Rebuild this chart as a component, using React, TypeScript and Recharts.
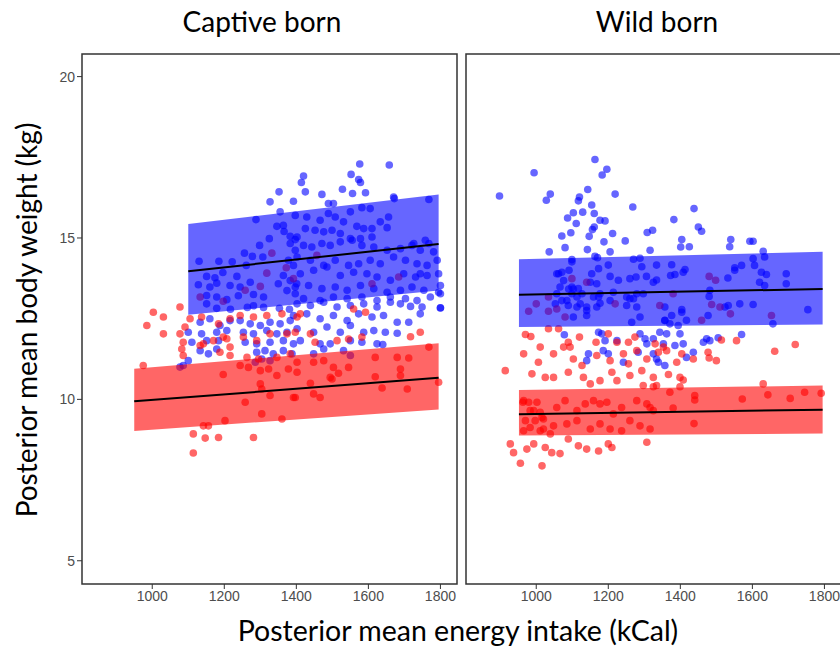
import { ComposedChart, Scatter, Area, Line, XAxis, YAxis, ReferenceArea } from "recharts";

// axis setup shared by both facets
const X_TICKS = [1000, 1200, 1400, 1600, 1800];
const Y_TICKS = [5, 10, 15, 20];
const X_DOMAIN = [805, 1846];
const Y_DOMAIN = [4.28, 20.7];

const TITLES = ["Captive born", "Wild born"];
const X_LABEL = "Posterior mean energy intake (kCal)";
const Y_LABEL = "Posterior mean body weight (kg)";

// captive born, blue group: [intake, weight]
const captiveBlue = [
  [1352,16.43],[1327,16.12],[1392,16.14],[1355,15.81],[1288,15.57],[1346,15.36],[1364,15.39],[1366,15.2],[1325,14.98],[1298,14.77],
  [1383,15.05],[1397,14.95],[1256,14.53],[1278,14.43],[1307,14.41],[1130,14.28],[1185,14.28],[1222,14.26],[1261,14.15],[1151,13.81],
  [1174,13.77],[1196,13.93],[1235,13.81],[1128,13.55],[1160,13.48],[1179,13.6],[1216,13.53],[1244,13.48],[1272,13.63],[1151,13.22],
  [1179,13.17],[1207,13.09],[1239,13.21],[1281,13.25],[1309,13.17],[1151,12.96],[1179,12.82],[1217,12.79],[1264,12.85],[1281,12.9],
  [1309,12.85],[1353,12.82],[1381,12.79],[1383,14.83],[1397,14.62],[1378,14.31],[1392,14.15],[1364,13.84],[1383,13.68],[1401,13.58],
  [1350,13.58],[1374,13.37],[1397,13.27],
  [1576,17.29],[1658,17.26],[1420,16.92],[1414,16.72],[1552,16.97],[1573,16.81],[1578,16.72],[1425,16.43],[1471,16.35],[1528,16.51],
  [1556,16.38],[1592,16.4],[1489,16.07],[1503,16.07],[1550,15.81],[1582,15.94],[1605,15.91],[1672,16.22],[1768,16.19],
  [1397,15.7],[1429,15.65],[1466,15.55],[1489,15.76],[1508,15.65],[1531,15.5],[1568,15.36],[1587,15.29],[1610,15.29],[1633,15.5],
  [1656,15.65],[1652,15.32],[1425,15.29],[1452,15.24],[1476,15.19],[1499,15.24],[1522,15.14],[1550,14.98],[1578,14.98],[1610,15.03],
  [1402,15.03],[1420,14.77],[1443,14.72],[1471,14.83],[1494,14.77],[1522,14.88],[1555,14.93],[1582,14.77],[1615,14.72],[1652,14.62],
  [1689,14.67],[1721,14.77],[1758,14.93],[1768,14.83],[1744,14.62],[1781,14.57],
  [1402,14.41],[1439,14.31],[1476,14.15],[1508,14.31],[1545,14.15],[1573,14.2],[1605,14.31],[1633,14.2],[1670,14.41],[1703,14.31],
  [1735,14.2],[1763,14.15],[1791,14.31],[1411,13.89],[1448,14.0],[1485,14.1],[1522,13.84],[1559,13.94],[1596,13.89],[1624,13.79],
  [1661,13.69],[1698,13.89],[1731,13.79],[1763,13.84],[1795,13.89],[1397,13.48],[1434,13.53],[1471,13.43],[1508,13.48],[1541,13.38],
  [1578,13.53],[1615,13.43],[1652,13.32],[1689,13.38],[1721,13.48],[1754,13.38],[1795,13.32],[1420,13.12],[1466,13.06],[1503,13.17],
  [1541,13.12],[1582,13.17],[1624,13.06],[1661,13.17],[1703,13.12],[1735,13.06],[1772,13.17],
  [1402,12.96],[1439,12.91],[1476,13.01],[1513,12.86],[1550,12.91],[1587,12.96],[1624,12.86],[1661,13.01],[1689,12.96],[1717,12.88],
  [1749,12.86],[1800,12.84],[1392,12.6],[1429,12.65],[1466,12.5],[1503,12.6],[1541,12.44],[1573,12.65],[1610,12.55],[1642,12.6],
  [1680,12.39],[1712,12.39],[1744,12.65],[1402,12.19],[1448,12.08],[1485,12.24],[1522,12.08],[1550,12.29],[1587,12.08],[1615,12.13],
  [1647,12.08],[1680,12.05],[1411,11.82],[1466,11.72],[1494,11.72],[1550,11.82],[1582,11.77],[1624,11.72],[1640,11.7],
  [1448,11.41],[1476,11.56],[1531,11.51],[1550,11.36],
  [1133,12.39],[1160,12.5],[1188,12.29],[1216,12.44],[1244,12.44],[1272,12.34],[1300,12.29],[1327,12.39],[1355,12.34],[1383,12.44],
  [1100,12.08],[1137,12.03],[1179,12.08],[1207,12.13],[1253,12.08],[1281,12.03],[1318,12.13],[1346,12.03],[1374,12.08],
  [1110,11.77],[1151,11.82],[1184,11.82],[1258,11.77],[1290,11.72],[1327,11.77],[1364,11.82],[1392,11.72],
  [1133,11.51],[1156,11.41],[1179,11.56],[1290,11.46],[1313,11.51],[1336,11.41],[1364,11.51],[1388,11.41],
  [1100,11.2],[1086,11.05],[1077,11.0],[1304,11.25],[1327,11.2],[1286,11.15],
  [1800,13.53],[1800,13.27],[1800,12.83],[1726,14.83],[1744,13.89],[1670,16.27],
];

// captive born, red group
const captiveRed = [
  [1077,12.86],[1003,12.7],[1031,12.55],[985,12.29],[1031,12.03],[1077,12.03],[1105,12.5],[1086,11.77],[1082,11.56],[1086,11.36],
  [975,11.05],[1137,12.55],[1184,12.34],[1216,12.5],[1244,12.6],[1281,12.55],[1318,12.6],[1360,12.65],[1402,12.55],[1142,11.72],
  [1170,11.82],[1197,11.93],[1216,11.62],[1253,11.93],[1290,11.82],[1327,12.03],[1374,12.03],[1397,12.08],[1188,11.46],[1216,11.36],
  [1263,11.3],[1295,11.25],[1346,11.3],[1383,11.41],[1402,11.15],[1197,10.77],[1267,10.99],[1300,10.89],[1323,10.94],[1346,10.74],
  [1378,10.94],[1402,10.84],[1244,11.05],[1300,10.48],[1304,10.32],[1327,10.12],[1392,10.06],[1258,9.91],[1304,9.55],[1360,9.39],
  [1202,9.34],[1142,9.18],[1156,9.18],[1114,8.93],[1147,8.8],[1184,8.82],[1281,8.82],[1114,8.34],
  [1411,12.65],[1559,12.8],[1592,12.7],[1744,12.08],[1717,11.94],[1439,12.03],[1452,11.77],[1513,11.82],[1545,11.87],[1582,11.93],
  [1768,11.62],[1619,11.3],[1680,11.3],[1712,11.28],[1448,11.15],[1476,11.2],[1503,10.99],[1545,10.99],[1517,10.81],[1494,10.68],
  [1499,10.63],[1689,10.94],[1689,10.74],[1619,10.7],[1795,10.53],[1638,10.35],[1708,10.32],[1439,10.5],[1448,10.17],[1466,10.06],
  [1397,10.06],[1091,12.24],[1133,11.67],[1207,11.88],
  [1332,14.53],[1318,13.91],[1372,14.08],[1258,13.38],[1300,13.5],[1133,13.17],[1197,13.04],[1392,13.74],[1684,13.79],[1610,13.58],
  [1457,14.46],
];

// wild born, blue group
const wildBlue = [
  [898,16.3],[994,17.02],[1163,17.43],[1196,17.13],[1183,16.95],[1039,16.36],[1028,16.17],[1120,16.27],[1117,16.15],[1143,16.5],
  [1219,16.36],[1268,15.96],[1154,16.02],[1087,15.62],[1103,15.78],[1129,15.8],[1161,15.76],[1177,15.55],[1191,15.53],
  [1111,15.45],[1156,15.26],[1161,15.34],[1096,15.16],[1071,15.06],[1147,15.05],[1212,15.14],[1247,14.91],[1308,15.17],[1323,15.24],
  [1188,14.88],[1080,14.7],[1036,14.57],[1142,14.64],[1163,14.43],[1170,14.39],[1205,14.57],[1316,14.62],
  [1099,14.33],[1071,13.94],[1091,14.0],[1062,13.89],[1154,13.89],[1173,14.05],[1200,14.16],[1270,14.34],[1288,14.37],[1293,14.11],
  [1334,14.16],[1099,13.48],[1117,13.43],[1150,13.63],[1168,13.58],[1205,13.81],[1228,13.69],[1260,13.74],[1277,13.79],[1306,13.81],
  [1325,13.63],[1066,13.48],[1099,13.27],[1127,13.27],[1159,13.17],[1177,13.27],[1214,13.32],[1251,13.17],[1270,13.12],[1297,13.27],
  [1053,12.96],[1089,12.91],[1122,12.96],[1140,12.86],[1177,12.98],[1251,12.91],[1279,12.86],
  [1438,15.91],[1382,15.57],[1450,15.34],[1459,15.21],[1404,14.95],[1401,14.72],[1425,14.73],[1540,14.95],[1537,14.73],[1593,14.9],
  [1602,14.9],[1630,14.59],[1634,14.41],[1602,14.36],[1606,14.15],[1376,14.17],[1413,14.02],[1408,13.94],[1385,13.87],[1373,13.84],
  [1570,14.15],[1551,14.08],[1551,14.0],[1532,13.76],[1625,13.94],[1639,13.87],[1694,13.89],[1694,13.58],[1620,13.63],[1634,13.53],
  [1334,13.7],[1482,13.38],[1480,13.19],[1533,12.91],[1565,12.96],[1602,12.94],[1357,12.86],[1404,12.78],[1754,12.78],[1657,12.34],
  [1057,13.89],[1099,14.26],[1076,13.68],[1090,13.42],[1103,13.42],[1113,13.17],[1057,13.27],[1071,13.06],[1085,13.06],[1113,12.86],
  [1140,12.75],[1103,12.55],[1140,12.6],[1168,12.86],[1173,13.17],[1205,13.06],[1260,13.12],[1279,13.27],[1265,12.39],[1288,12.55],
  [1357,12.45],[1371,12.34],[1394,12.29],[1404,12.7],[1417,12.45],[1436,11.46],[1473,11.88],
  [1078,12.0],[1145,11.41],[1140,11.2],[1173,12.08],[1182,12.03],[1191,11.82],[1186,11.51],[1200,11.41],[1224,11.82],[1242,11.15],
  [1288,12.03],[1302,11.88],[1307,11.72],[1325,11.88],[1283,11.46],[1334,11.25],
  [1343,12.08],[1362,12.03],[1399,12.03],[1353,11.72],[1385,11.67],[1408,11.72],[1339,11.15],[1357,11.05],[1417,11.3],[1464,11.77],
  [1482,11.82],[1505,11.91],[1570,12.01],[1325,11.41],[1376,12.6],[1357,12.44],[1477,12.6],[1524,12.86],
];

// wild born, red group
const wildRed = [
  [1480,13.81],[1498,13.69],[1380,13.27],[1343,12.91],[1487,12.94],[1510,12.86],[979,12.73],[1000,12.96],[1034,12.73],[1034,13.17],
  [1057,12.8],[1080,12.55],[1099,13.74],[1140,13.63],[1219,12.96],[1539,12.65],[1653,12.6],[1459,12.45],
  [970,12.01],[985,11.95],[1034,12.19],[1062,12.19],[1089,11.77],[1120,11.93],[1166,11.77],[1200,12.03],[1224,11.77],[1256,11.77],
  [1274,11.93],[965,11.41],[1011,11.62],[1006,11.15],[1048,11.41],[1076,11.62],[1094,11.62],[1103,11.25],[1127,11.05],[1168,11.36],
  [1205,11.2],[1242,11.41],[1279,11.51],[1307,11.25],[1256,11.1],
  [914,10.89],[988,10.79],[1025,10.68],[1048,10.68],[1089,10.84],[1131,10.68],[1150,10.48],[1177,10.58],[1210,10.84],[1224,10.58],
  [1260,10.74],[1293,10.89],[1325,10.68],[1334,10.43],[1297,10.43],
  [965,9.96],[993,9.65],[1016,9.44],[1057,9.75],[1080,9.96],[1113,9.65],[1136,9.86],[1159,9.96],[1177,9.86],[1196,9.91],
  [1214,9.55],[1237,9.75],[1260,9.34],[1279,9.96],[1307,9.86],[1325,9.65],[983,9.13],[1020,9.08],[1048,9.18],[1085,9.24],
  [1113,9.34],[1150,9.08],[1177,9.24],[1205,9.08],[1237,9.03],[1288,9.18],[1316,9.08],
  [963,9.91],[979,9.91],[1002,9.91],[983,9.65],[1011,9.6],[970,9.34],[997,9.34],[1020,9.39],[965,9.03],[1011,9.03],[1039,8.93],
  [928,8.62],[937,8.35],[956,8.02],[974,8.46],[993,8.62],[1016,7.94],[1025,8.51],[1043,8.35],[1066,8.32],[1089,8.77],
  [1117,8.56],[1140,8.46],[1173,8.4],[1200,8.62],[1210,8.51],[1307,8.67],
  [1330,11.72],[1339,11.46],[1353,11.62],[1362,11.51],[1390,11.15],[1404,11.41],[1436,11.25],[1477,11.46],[1480,11.28],[1500,11.2],
  [1514,11.84],[1556,11.82],[1662,11.49],[1719,11.7],
  [1367,10.77],[1399,10.68],[1408,10.6],[1325,10.39],[1399,10.39],[1630,10.48],[1371,10.22],[1440,10.12],[1440,9.98],[1572,10.01],
  [1643,10.14],[1705,10.03],[1745,10.22],[1791,10.19],[1316,9.75],[1380,9.73],[1438,9.25],
];

// fitted line and 95% band ends
const captiveBlueX = [1100, 1795];
const captiveBlueLo = [12.62, 13.37];
const captiveBlueHi = [15.43, 16.35];
const captiveBlueFit = [13.97, 14.81];

const captiveRedX = [950, 1795];
const captiveRedLo = [9.02, 9.69];
const captiveRedHi = [10.95, 11.74];
const captiveRedFit = [9.94, 10.67];

const wildBlueX = [952, 1795];
const wildBlueLo = [12.24, 12.32];
const wildBlueHi = [14.34, 14.57];
const wildBlueFit = [13.24, 13.42];

const wildRedX = [952, 1795];
const wildRedLo = [8.88, 8.94];
const wildRedHi = [10.29, 10.43];
const wildRedFit = [9.54, 9.68];

const toPts = (arr: number[][]) => arr.map(([x, y]) => ({ x, y }));

// merge both groups' band ends into one table keyed by intake
function bandRows(groups: { key: string; x: number[]; lo: number[]; hi: number[]; fit: number[] }[]) {
  const rows = new Map<number, any>();
  groups.forEach((g) => {
    g.x.forEach((x, i) => {
      const r = rows.get(x) ?? { x };
      r[g.key + "Band"] = [g.lo[i], g.hi[i]];
      r[g.key + "Fit"] = g.fit[i];
      rows.set(x, r);
    });
  });
  return [...rows.values()].sort((a, b) => a.x - b.x);
}

const dot = (color: string) => (p: any) => (
  <circle cx={p.cx} cy={p.cy} r={3.8} fill={color} fillOpacity={0.6} />
);

const tickStyle = { fontSize: 14, fill: "#4d4d4d", fontFamily: "Liberation Sans, Arial, sans-serif" };

function Panel({ left, width, margin, showY, blue, red, rows }: any) {
  return (
    <div style={{ position: "absolute", left, top: 0 }}>
      <ComposedChart width={width} height={648} data={rows} margin={margin}>
        <XAxis
          type="number"
          dataKey="x"
          domain={X_DOMAIN}
          ticks={X_TICKS}
          allowDataOverflow
          axisLine={false}
          tickLine={{ stroke: "#333" }}
          tickSize={5}
          tick={tickStyle}
          height={30}
        />
        <YAxis
          type="number"
          domain={Y_DOMAIN}
          ticks={Y_TICKS}
          allowDataOverflow
          hide={!showY}
          axisLine={false}
          tickLine={{ stroke: "#333" }}
          tickSize={5}
          tick={tickStyle}
          width={40}
        />
        <Scatter data={toPts(blue)} dataKey="y" shape={dot("#0000ff")} isAnimationActive={false} zIndex={100} />
        <Scatter data={toPts(red)} dataKey="y" shape={dot("#ff0000")} isAnimationActive={false} zIndex={100} />
        <Area type="linear" dataKey="blueBand" fill="#0000ff" fillOpacity={0.6} stroke="none" connectNulls isAnimationActive={false} zIndex={700} />
        <Area type="linear" dataKey="redBand" fill="#ff0000" fillOpacity={0.6} stroke="none" connectNulls isAnimationActive={false} zIndex={700} />
        <Line type="linear" dataKey="blueFit" stroke="#000" strokeWidth={2} dot={false} connectNulls isAnimationActive={false} zIndex={800} />
        <Line type="linear" dataKey="redFit" stroke="#000" strokeWidth={2} dot={false} connectNulls isAnimationActive={false} zIndex={800} />
        <ReferenceArea
          x1={X_DOMAIN[0]}
          x2={X_DOMAIN[1]}
          y1={Y_DOMAIN[0]}
          y2={Y_DOMAIN[1]}
          fill="none"
          stroke="#333"
          strokeWidth={1.5}
          zIndex={900}
        />
      </ComposedChart>
    </div>
  );
}

export default function App() {
  const captiveRows = bandRows([
    { key: "blue", x: captiveBlueX, lo: captiveBlueLo, hi: captiveBlueHi, fit: captiveBlueFit },
    { key: "red", x: captiveRedX, lo: captiveRedLo, hi: captiveRedHi, fit: captiveRedFit },
  ]);
  const wildRows = bandRows([
    { key: "blue", x: wildBlueX, lo: wildBlueLo, hi: wildBlueHi, fit: wildBlueFit },
    { key: "red", x: wildRedX, lo: wildRedLo, hi: wildRedHi, fit: wildRedFit },
  ]);
  const font = "Lato, 'Open Sans', sans-serif";
  return (
    <div style={{ position: "fixed", left: 0, top: 0, width: 840, height: 648, overflow: "hidden", background: "#fff" }}>
      <Panel
        left={0}
        width={460}
        margin={{ top: 54, right: 3, bottom: 34, left: 42 }}
        showY
        blue={captiveBlue}
        red={captiveRed}
        rows={captiveRows}
      />
      <Panel
        left={440}
        width={410}
        margin={{ top: 54, right: 9, bottom: 34, left: 26 }}
        showY={false}
        blue={wildBlue}
        red={wildRed}
        rows={wildRows}
      />
      <svg width={840} height={648} style={{ position: "absolute", left: 0, top: 0, pointerEvents: "none" }}>
        <text x={262} y={32} textAnchor="middle" fontSize={28} fontFamily={font} fill="#000">{TITLES[0]}</text>
        <text x={657} y={32} textAnchor="middle" fontSize={28} fontFamily={font} fill="#000">{TITLES[1]}</text>
        <text transform="translate(37,320) rotate(-90)" textAnchor="middle" fontSize={28} fontFamily={font} fill="#000">
          {Y_LABEL}
        </text>
        <text x={458} y={641} textAnchor="middle" fontSize={28.5} fontFamily={font} fill="#000">{X_LABEL}</text>
      </svg>
    </div>
  );
}
